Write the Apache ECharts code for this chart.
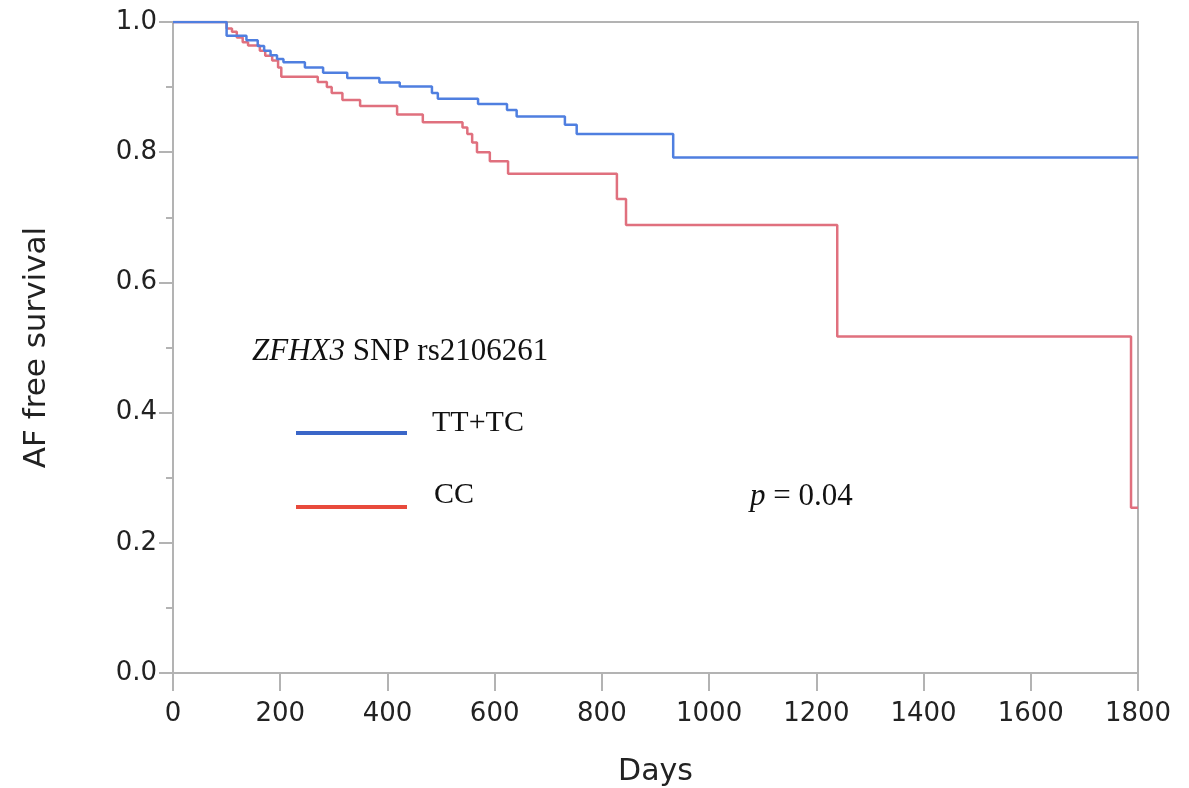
<!DOCTYPE html>
<html>
<head>
<meta charset="utf-8">
<script src="https://cdn.jsdelivr.net/npm/echarts@6/dist/echarts.min.js"></script>
<style>
  html, body { margin: 0; padding: 0; background: #fff; }
  #chart { width: 1189px; height: 788px; }
</style>
</head>
<body>
<div id="chart"></div>
<script>
// Kaplan-Meier steps: [day, survival]
var ttTcDays = [0, 100, 137, 158, 170, 182, 194, 206, 246, 280, 325, 385, 423, 483, 494, 569, 623, 641, 731, 753, 933, 1800];
var ttTcSurv = [1.0, 0.979, 0.972, 0.963, 0.956, 0.949, 0.943, 0.938, 0.930, 0.922, 0.914, 0.907, 0.901, 0.891, 0.882, 0.874, 0.865, 0.855, 0.842, 0.828, 0.792, 0.792];

var ccDays = [0, 100, 110, 119, 130, 140, 162, 172, 185, 196, 202, 270, 287, 296, 316, 349, 418, 466, 540, 549, 558, 567, 591, 625, 828, 845, 1239, 1787, 1800];
var ccSurv = [1.0, 0.99, 0.985, 0.976, 0.969, 0.964, 0.956, 0.948, 0.941, 0.930, 0.916, 0.908, 0.900, 0.891, 0.880, 0.871, 0.858, 0.846, 0.838, 0.828, 0.815, 0.800, 0.786, 0.767, 0.728, 0.688, 0.517, 0.254, 0.254];

var xTicks = [0, 200, 400, 600, 800, 1000, 1200, 1400, 1600, 1800];
var yTicks = [0.0, 0.2, 0.4, 0.6, 0.8, 1.0];

function pairs(xs, ys) {
  return xs.map(function (x, i) { return [x, ys[i]]; });
}

var myChart = echarts.init(document.getElementById('chart'));

var axisFont = { fontFamily: 'DejaVu Sans', fontSize: 26, color: '#222' };
var serif = 'Liberation Serif';

var option = {
  animation: false,
  backgroundColor: '#fff',
  grid: {
    left: 173, right: 51, top: 22, bottom: 115,
    containLabel: false, outerBoundsMode: 'none',
    show: true, borderColor: '#b3b3b3', borderWidth: 2
  },
  xAxis: {
    type: 'value', min: 0, max: 1800, interval: 200,
    name: 'Days', nameLocation: 'middle', nameGap: 84,
    nameTextStyle: { fontFamily: 'DejaVu Sans', fontSize: 30, color: '#222' },
    axisLine: { lineStyle: { color: '#b3b3b3', width: 2 } },
    axisTick: { length: 18, lineStyle: { color: '#b3b3b3', width: 2 } },
    axisLabel: Object.assign({ margin: 28, formatter: function (v) { return xTicks.indexOf(v) >= 0 ? String(v) : ''; } }, axisFont),
    splitLine: { show: false }
  },
  yAxis: {
    type: 'value', min: 0, max: 1, interval: 0.2,
    name: 'AF free survival', nameLocation: 'middle', nameGap: 121,
    nameTextStyle: { fontFamily: 'DejaVu Sans', fontSize: 31, color: '#222' },
    axisLine: { show: true, lineStyle: { color: '#b3b3b3', width: 2 } },
    axisTick: { show: true, length: 14, lineStyle: { color: '#b3b3b3', width: 2 } },
    minorTick: { show: true, splitNumber: 2, length: 7, lineStyle: { color: '#b3b3b3', width: 2 } },
    axisLabel: Object.assign({ margin: 16, formatter: function (v) { return v.toFixed(1); } }, axisFont),
    splitLine: { show: false }
  },
  series: [
    {
      name: 'TT+TC', type: 'line', step: 'end', showSymbol: false,
      data: pairs(ttTcDays, ttTcSurv),
      lineStyle: { color: '#4f7fe0', width: 2.5 }, z: 3
    },
    {
      name: 'CC', type: 'line', step: 'end', showSymbol: false,
      data: pairs(ccDays, ccSurv),
      lineStyle: { color: '#e0707e', width: 2.5 }, z: 2
    }
  ],
  graphic: [
    {
      type: 'text', x: 252, y: 352,
      style: {
        text: '{i|ZFHX3} SNP rs2106261',
        rich: { i: { fontFamily: serif, fontStyle: 'italic', fontSize: 31, fill: '#111' } },
        fontFamily: serif, fontSize: 31, fill: '#111', verticalAlign: 'middle'
      }
    },
    { type: 'line', shape: { x1: 296, y1: 433, x2: 407, y2: 433 }, style: { stroke: '#3a66c8', lineWidth: 4 } },
    { type: 'text', x: 432, y: 423, style: { text: 'TT+TC', fontFamily: serif, fontSize: 30, fill: '#111', verticalAlign: 'middle' } },
    { type: 'line', shape: { x1: 296, y1: 507, x2: 407, y2: 507 }, style: { stroke: '#e84a3c', lineWidth: 4 } },
    { type: 'text', x: 434, y: 495, style: { text: 'CC', fontFamily: serif, fontSize: 30, fill: '#111', verticalAlign: 'middle' } },
    {
      type: 'text', x: 750, y: 497,
      style: {
        text: '{i|p} = 0.04',
        rich: { i: { fontFamily: serif, fontStyle: 'italic', fontSize: 31, fill: '#111' } },
        fontFamily: serif, fontSize: 31, fill: '#111', verticalAlign: 'middle'
      }
    }
  ]
};

myChart.setOption(option);
</script>
</body>
</html>
